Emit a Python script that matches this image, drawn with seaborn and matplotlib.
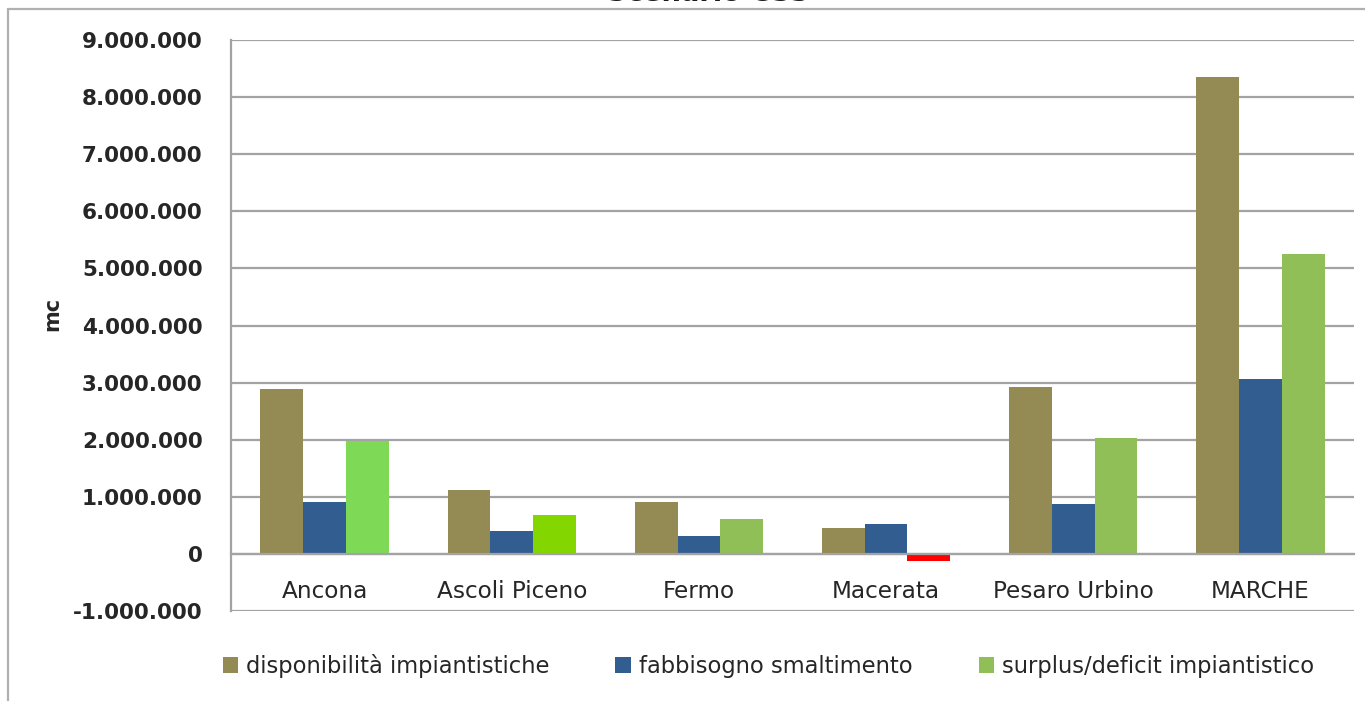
import numpy as np
import pandas as pd
import matplotlib
matplotlib.use("Agg")
import matplotlib.pyplot as plt
import seaborn as sns
from matplotlib.lines import Line2D
from matplotlib.patches import Patch
from matplotlib.ticker import FuncFormatter, FixedLocator

# data (mc)
areas = ["Ancona", "Ascoli Piceno", "Fermo", "Macerata", "Pesaro Urbino", "MARCHE"]
disponibilita = [2880000, 1120000, 910000, 450000, 2930000, 8350000]
fabbisogno = [910000, 400000, 320000, 520000, 870000, 3060000]
surplus = [1970000, 680000, 610000, -120000, 2030000, 5250000]
series_names = ["disponibilità impiantistiche", "fabbisogno smaltimento",
                "surplus/deficit impiantistico"]
y_ticks = list(range(-1000000, 9000001, 1000000))

series_colors = ["#948a54", "#315d90", "#8fbf56"]
surplus_bar_colors = ["#7ed957", "#84d600", "#8fbf56", "#ff0000", "#8fbf56", "#8fbf56"]

df = pd.DataFrame({
    "area": areas * 3,
    "serie": [series_names[0]] * 6 + [series_names[1]] * 6 + [series_names[2]] * 6,
    "valore": disponibilita + fabbisogno + surplus,
})

sns.set_style("white")
plt.rcParams["font.family"] = ["DejaVu Sans"]

fig = plt.figure(figsize=(13.65, 7.01), dpi=100)
ax = fig.add_axes([231 / 1365, 1 - 611 / 701, (1354 - 231) / 1365, (611 - 40) / 701])

sns.barplot(data=df, x="area", y="valore", hue="serie", palette=series_colors,
            width=0.685, saturation=1, ax=ax, legend=False,
            edgecolor="none", linewidth=0)

# the surplus series has one colour per bar
for patch, c in zip(ax.containers[2], surplus_bar_colors):
    patch.set_facecolor(c)

grid_c = "#a3a3a3"
ax.set_xlim(-0.5, len(areas) - 0.5)
ax.set_ylim(-1000000, 9000000)
ax.set_yticks(y_ticks)
ax.yaxis.set_major_formatter(FuncFormatter(lambda v, p: f"{int(v):,}".replace(",", ".")))
ax.yaxis.grid(True, color=grid_c, lw=1.6)
ax.set_axisbelow(True)

for s in ["top", "right"]:
    ax.spines[s].set_visible(False)
ax.spines["bottom"].set_position(("data", 0))
ax.spines["bottom"].set_color(grid_c)
ax.spines["bottom"].set_linewidth(1.6)
ax.spines["left"].set_color(grid_c)
ax.spines["left"].set_linewidth(1.6)

ax.tick_params(axis="y", length=6.5, width=1.4, color=grid_c, pad=14, labelsize=15.5)
for t in ax.get_yticklabels():
    t.set_fontweight("bold")
ax.tick_params(axis="x", which="major", length=0, pad=19, labelsize=16.7)
ax.xaxis.set_minor_locator(FixedLocator(np.arange(0.5, len(areas), 1.0)))
ax.tick_params(axis="x", which="minor", length=6, width=1.4, color=grid_c)

ax.set_xlabel("")
ax.set_ylabel("mc", fontsize=15, fontweight="bold")
ax.yaxis.set_label_coords(-0.150, 0.52)

handles = [Patch(facecolor=c, edgecolor="none") for c in series_colors]
fig.legend(handles, series_names, loc="center", bbox_to_anchor=(0.563, 1 - 666 / 701),
           ncol=3, frameon=False, fontsize=16.3, handlelength=0.7, handleheight=0.7,
           handletextpad=0.35, columnspacing=2.9)

# title cut by the page edge
fig.text(708 / 1365, 1 - 1 / 701, "Scenario CSS", ha="center", va="baseline",
         fontsize=19.7, fontweight="bold", color="#1a1a1a")

# chart frame
fig.add_artist(Line2D([8 / 1365, 1.0], [1 - 9 / 701] * 2, color="#b0b0b0", lw=1.6))
fig.add_artist(Line2D([8 / 1365] * 2, [1 - 9 / 701, 0.0], color="#b0b0b0", lw=1.6))

fig.savefig("out.png", dpi=100)
plt.close(fig)
